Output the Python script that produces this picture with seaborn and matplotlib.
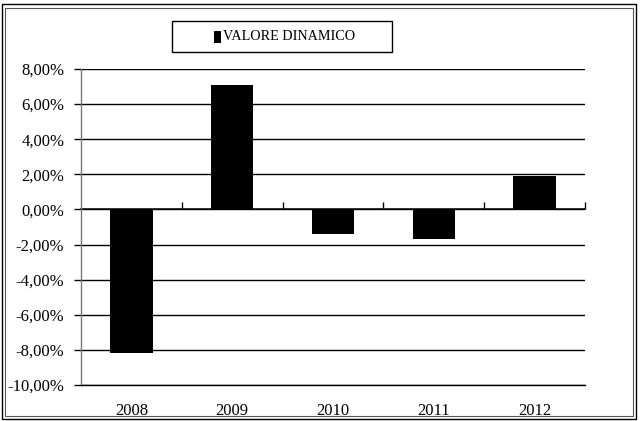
import matplotlib
matplotlib.use("Agg")
import matplotlib.pyplot as plt
import seaborn as sns
import pandas as pd
from matplotlib.ticker import FuncFormatter
from matplotlib.patches import Rectangle

years = ["2008", "2009", "2010", "2011", "2012"]
values = [-8.2, 7.1, -1.42, -1.68, 1.88]
series_name = "VALORE DINAMICO"
y_ticks = [-10, -8, -6, -4, -2, 0, 2, 4, 6, 8]

sns.set_theme(style="white")
plt.rcParams["font.family"] = ["Liberation Serif", "DejaVu Serif"]

df = pd.DataFrame({"year": years, "value": values})

fig = plt.figure(figsize=(6.4, 4.21), dpi=100)
ax = fig.add_axes([81/640, 1-385/421, (585-81)/640, (385-69)/421])

sns.barplot(data=df, x="year", y="value", color="black", width=0.42,
            saturation=1, ax=ax, zorder=3, linewidth=0)

ax.set_ylim(-10, 8)
ax.set_xlim(-0.5, 4.5)
ax.set_yticks(y_ticks)
ax.yaxis.set_major_formatter(FuncFormatter(lambda v, p: f"{v:.2f}%".replace(".", ",")))
ax.grid(axis="y", color="black", linewidth=1.0, zorder=0)
ax.set_axisbelow(True)
for s in ["top", "right"]:
    ax.spines[s].set_visible(False)
ax.spines["bottom"].set_color("black")
ax.spines["bottom"].set_linewidth(1.0)
ax.spines["left"].set_color("#777777")
ax.spines["left"].set_linewidth(1.0)
ax.tick_params(axis="y", which="both", left=True, length=5, width=1, color="black",
               labelsize=12, pad=7, labelcolor="black")
ax.tick_params(axis="x", bottom=False, labelsize=12, pad=7, labelcolor="black")
ax.set_xlabel("")
ax.set_ylabel("")

# category-axis tick marks on the zero line
sec = ax.secondary_xaxis(10/18)
sec.set_xticks([0.5, 1.5, 2.5, 3.5, 4.5])
sec.set_xticklabels([])
sec.tick_params(axis="x", direction="out", length=5, width=1, color="black")
sec.spines["bottom"].set_visible(False)

# legend box
fig.patches.append(Rectangle((172/640, 1-52/421), 220/640, 31/421,
                             transform=fig.transFigure, fill=False,
                             edgecolor="black", linewidth=1.0))
fig.patches.append(Rectangle((214/640, 1-43/421), 7/640, 12/421,
                             transform=fig.transFigure, facecolor="black",
                             edgecolor="none"))
fig.text(223/640, 1-37/421, series_name, ha="left", va="center",
         fontsize=10.2, color="black")

# figure border (double line)
fig.patches.append(Rectangle((2/640, 2/421), 634/640, 415/421, transform=fig.transFigure,
                             fill=False, edgecolor="black", linewidth=1.0))
fig.patches.append(Rectangle((5/640, 5/421), 628/640, 408/421, transform=fig.transFigure,
                             fill=False, edgecolor="#555555", linewidth=0.8))

fig.savefig("out.png", dpi=100)
